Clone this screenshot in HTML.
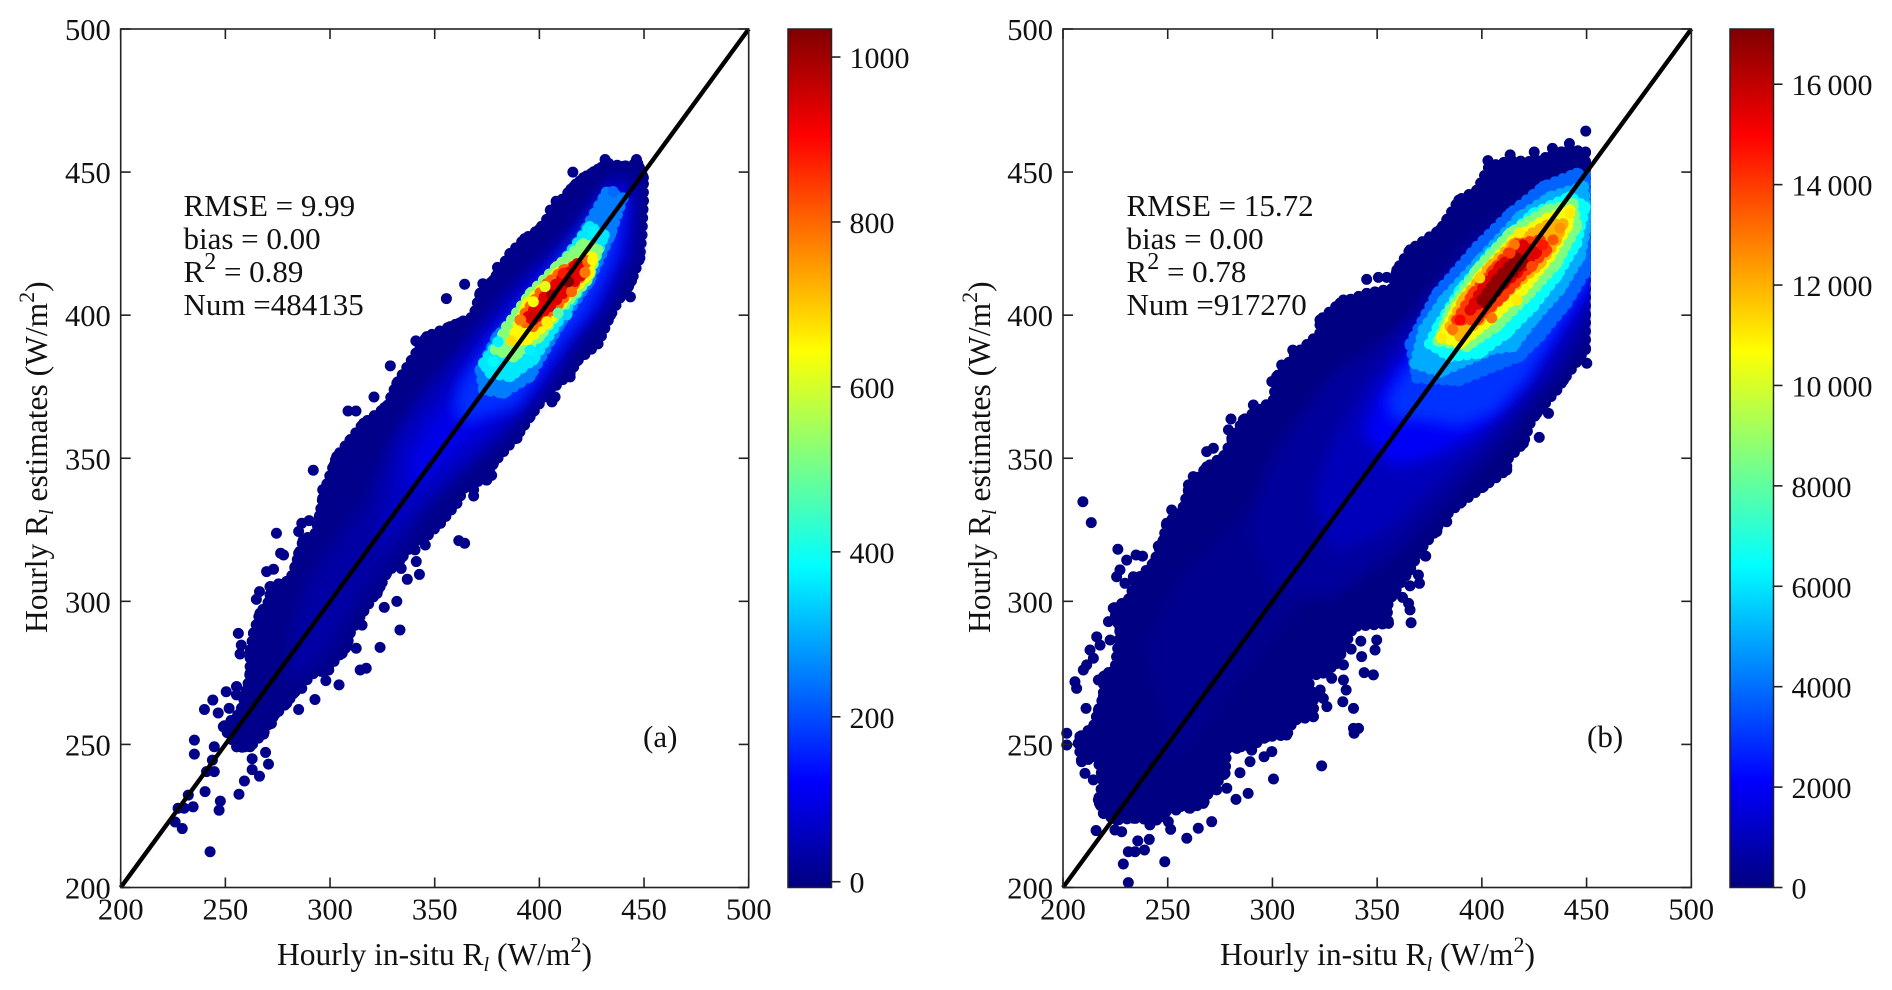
<!DOCTYPE html>
<html lang="en">
<head>
<meta charset="utf-8">
<title>Hourly Rl estimates versus in-situ density scatter</title>
<style>
html,body{margin:0;padding:0;background:#fff;}
svg{display:block;}
text{font-family:"Liberation Serif",serif;fill:#111;}
</style>
</head>
<body>
<svg id="chart" xmlns="http://www.w3.org/2000/svg" width="1892" height="990" viewBox="0 0 1892 990">
  <rect width="1892" height="990" fill="#fff"/>
  <defs>
    <filter id="glowBlur" x="-20%" y="-20%" width="140%" height="140%"><feGaussianBlur stdDeviation="7"/></filter>
  </defs>
  <g id="panelA"></g>
  <g id="panelB"></g>

  <text transform="translate(47,633) rotate(-90)" font-size="31.5">Hourly R<tspan font-size="20" font-style="italic" dy="6">l</tspan><tspan dy="-6"> estimates (W/m</tspan><tspan font-size="22" dy="-13">2</tspan><tspan dy="13">)</tspan></text>
  <text x="277" y="965" font-size="31.5">Hourly in-situ R<tspan font-size="20" font-style="italic" dy="6">l</tspan><tspan dy="-6"> (W/m</tspan><tspan font-size="22" dy="-13">2</tspan><tspan dy="13">)</tspan></text>
  <g font-size="31">
    <text x="183.5" y="216">RMSE = 9.99</text>
    <text x="183.5" y="249">bias = 0.00</text>
    <text x="183.5" y="282">R<tspan font-size="24" dy="-13">2</tspan><tspan dy="13"> = 0.89</tspan></text>
    <text x="183.5" y="315">Num =484135</text>
  </g>
  <text x="643" y="747" font-size="31">(a)</text>

  <text transform="translate(990,633) rotate(-90)" font-size="31.5">Hourly R<tspan font-size="20" font-style="italic" dy="6">l</tspan><tspan dy="-6"> estimates (W/m</tspan><tspan font-size="22" dy="-13">2</tspan><tspan dy="13">)</tspan></text>
  <text x="1220" y="965" font-size="31.5">Hourly in-situ R<tspan font-size="20" font-style="italic" dy="6">l</tspan><tspan dy="-6"> (W/m</tspan><tspan font-size="22" dy="-13">2</tspan><tspan dy="13">)</tspan></text>
  <g font-size="31">
    <text x="1126.5" y="216">RMSE = 15.72</text>
    <text x="1126.5" y="249">bias = 0.00</text>
    <text x="1126.5" y="282">R<tspan font-size="24" dy="-13">2</tspan><tspan dy="13"> = 0.78</tspan></text>
    <text x="1126.5" y="315">Num =917270</text>
  </g>
  <text x="1587" y="747" font-size="31">(b)</text>
</svg>

<script>
// ---------- shared axis data ----------
const xTickValues = [200, 250, 300, 350, 400, 450, 500];
const yTickValues = [200, 250, 300, 350, 400, 450, 500];
const identityLineValues = [200, 500];
const dataMaxX = 452;

// ---------- panel (a) colorbar ----------
const aCbarRange = [-7, 1034];
const aCbarTicks = [0, 200, 400, 600, 800, 1000];
const aCbarLabels = ["0", "200", "400", "600", "800", "1000"];

// ---------- panel (a) isolated scatter points ----------
const aPointX = [431.4,446.4,416,424.8,417.4,408,405.2,407.5,400.3,393,386,380,364.3,373,355.6,373.8,362,357,341,348.4,344,341,328.8,339.8,332.6,321,308.6,312.4,326,322.5,316.7,309.5,318.7,305,302,292,299.4,296.5,
 443.5,442.6,433.4,426,417.6,414.7,407.5,406,395.4,391.6,389.3,375.8,377.2,368.6,
 286.5,290,285,274.4,289.8,276.4,277.8,285,273,269.7,283.6,277.8,273,266.3,264.8,267.7,265.7,256.2,257.6,257,262,263.4,255.3,250.4,255.3,244,240,246.6,251.8,251.3,253,235.2,235.2,244.7,243.8,244.7,241,240.3,232.3,227.4,230.3,234.6,247.6,247,226,229.4,242.7,
 368.6,364.3,361.5,352.8,346.4,345.5,340.6,341.2,342.7,336.9,334,331.9,325.9,322.5,315.3,333.4,312.5,323.9,305.8,301.8,317.3,314.4,304.3,298,299.4,287.9,286.5,292.8,280.7,285,274,272,268.3,269.2,262.8,270.6,262.8,266.3,259.1,256.5,265,258,
 255.4,261,251.4];
const aPointY = [454.4,454.4,450,449.5,445.8,439.8,436.7,434.4,429.7,426.7,420.4,416.7,410.8,411,405.8,405.2,397.3,394.8,391,392.4,389,385.4,382.3,381.6,376,371.4,366.5,366.5,367.7,364.4,361.5,356.3,362,350.5,347.6,345.8,341,339,
 406.4,410,400,390.7,384.3,378.4,371.4,369.7,365,361,357,347.6,344,339,
 327.3,328.2,324.4,323.8,321.4,316.8,316.2,316.8,311.2,310.4,310.4,305.7,304.5,303.4,300.7,294.6,292.3,288.8,284.7,281.6,283,277.2,270.2,268.4,267.3,265.5,262.2,261,262.6,255.6,256.8,251.5,246.6,249.2,244.5,240.5,240.5,233.5,232.3,227.7,227.7,228.2,230.2,227,222.9,220.6,212.5,
 336.8,320.3,321.2,327.3,324.4,319.7,318,313.9,309.4,307.7,311.5,300,297.9,302.8,291.7,290,283.6,283.9,281.8,284.7,276.6,276,270.8,272.3,276,273.7,269.6,265.7,266,262.2,260.8,257.3,253.6,247.2,245,243.1,241.2,238.9,237.2,232.6,252.7,249,
 270.2,268.4,256];
const aPointValue = 4;

// ---------- panel (a) density levels (outlines) ----------
const aLevelValues = [4, 30, 60, 100, 170, 250, 360, 520, 650, 800, 930];
const aGlowLevels = 4;
const aLevel0X = [255.4,249,257,260.2,261.8,261.8,263.4,266.5,271.3,271.3,280.9,283.3,287.2,293,295,296.5,298.5,303.2,316,327.1,331.9,343,346.2,357.4,368.5,371.7,378.1,386,393,400,408,415,421,428,433,440,447,449.7,449.7,449,448,444,440,434,428,418,414.7,403.6,395.6,389.2,378.1,374.9,365.3,360.6,352.6,344.6,339.8,333.4,327,323.9,320.7,314.3,309.5,308,298.4,292,282.5,279.3,272.9,268.1,261.8];
const aLevel0Y = [249.2,256.2,260.9,269,274.8,281.8,288.8,295.8,300.5,305.1,307.4,312.1,321.4,323.8,330,336,341,350.6,362.2,368,376.2,389,392.5,396,399.5,407.7,412.3,421.6,426.7,430,438,444,448,451,453,452,453,448,440,428,420,412,408,400,390,384,379.7,372.7,364.6,357.6,348.3,342.4,341.3,334.3,327.3,321.5,320.3,314.4,309.8,305.1,301.6,294.6,288.8,284.2,276,274.8,267.8,264.4,259.7,253.9,249.2];
const aLevel1X = [280.9,288.8,303.2,317.5,322.3,333.5,347.8,360.6,373.3,387.6,405.2,420,438,447,446,430,414,392,373,357.4,344.6,331.8,322.3,311.1,300,288.8,279.3];
const aLevel1Y = [286.5,306.3,321.4,335.4,345.9,362.2,376.2,387.9,399.5,411.2,422.8,437,450,446,420,400,390,370,356,342.4,330.8,316.8,308.6,297,283,274.8,272.5];
const aLevel2X = [322,330.3,341.5,354.2,367,382.9,397.2,421,435,444,443,432,418,405,386,367,351,338.3,325.5];
const aLevel2Y = [320,352.9,366.9,378.5,390.2,404.2,415.8,430,447,445,422,405,392,376,360,348.3,338.9,329.6,320.3];
const aLevel3X = [338.3,346.2,357.4,363.8,373.3,387.6,402,421,432,442,440,428,412,397.2,376.5,360.6,347.8,336.7];
const aLevel3Y = [350.6,361.1,370.4,380.9,390.2,401.8,414.6,425,445,443,425,405,390,373.9,361.1,352.9,343.6,338.9];
const aLevel4X = [359,362.2,370.1,382.9,398.8,430,441,436,424,405,389.2,373.3,363.8];
const aLevel4Y = [368,376.2,384.4,397.2,410,440,441,420,402,385,368,364.6,362.2];
const aLevel5X = [371.7,379.7,394,415,432,440,434,424,410,395.6,382.9,373.3];
const aLevel5Y = [380.9,392.5,404.2,421,443,441,428,412,397,378.5,372.7,373.9];
const aLevel6X = [373.3,382.9,400,424,431,424,411,397.2,386,376.5];
const aLevel6Y = [383.2,393.7,408,431,428,414,400,384.4,378.5,379.7];
const aLevel7X = [379,384.4,395.6,408.3,421,428,422.6,410,400,387.6];
const aLevel7Y = [388,396,407.6,417,425,422.8,412,401.8,392.4,385.4];
const aLevel8X = [386.8,394,408.3,425,424,413,403.5,394];
const aLevel8Y = [391,404,414.6,420.4,414.6,406.5,397,391.3];
const aLevel9X = [390.8,403.5,411.5,422.6,421,408.3,397];
const aLevel9Y = [398.3,411,415.8,419,414.6,403,396];
const aLevel10X = [394.6,405,418,420,405,397];
const aLevel10Y = [399.5,408.8,418,414,403,398.3];
const aLevelsX = [aLevel0X,aLevel1X,aLevel2X,aLevel3X,aLevel4X,aLevel5X,aLevel6X,aLevel7X,aLevel8X,aLevel9X,aLevel10X];
const aLevelsY = [aLevel0Y,aLevel1Y,aLevel2Y,aLevel3Y,aLevel4Y,aLevel5Y,aLevel6Y,aLevel7Y,aLevel8Y,aLevel9Y,aLevel10Y];

// ---------- panel (a) individually visible hot dots ----------
const aHotX = [425.4,421.8,415.4,403.5,397.1,402.7,391.1,386.8,413.1,425.7,435.2,409,380.3,378,395.6,411.4,413.9,405.9,397];
const aHotY = [419.3,414.9,408.2,397.7,404.7,410,398.3,391,400.1,429.2,443.2,400.7,390.7,383.8,387.8,414.6,411.7,407,399.5];
const aHotValue = [650,780,800,660,640,620,780,680,340,370,230,480,370,380,370,880,1030,1000,950];

// ---------- panel (b) colorbar ----------
const bCbarRange = [0, 17100];
const bCbarTicks = [0, 2000, 4000, 6000, 8000, 10000, 12000, 14000, 16000];
const bCbarLabels = ["0", "2000", "4000", "6000", "8000", "10\u2009000", "12\u2009000", "14\u2009000", "16\u2009000"];

// ---------- panel (b) isolated scatter points ----------
const bPointX = [209.5,213.5,226.2,230.4,234.9,238,227.2,225.6,229.6,233.6,236.8,240.8,232.3,224.8,221.7,216.1,217.7,212.9,222.5,226.4,214.5,211.3,209.7,216.9,221.7,205.7,206.5,211,201.8,201.8,208.1,208.9,210.5,214.5,217.4,215.8,224.8,228,235.7,241.2,231.2,234.4,238.9,228.8,231.2,248.6,259.1,264.6,271,251.4,241.5,250.3,254,282.6,288.4,273.4,278.2,300.5,323.5,284.5,289.3,296,299.7,290.1,283,338.7,341.1,339,338.7,333.6,326,324.3,335.2,322.8,333.9,328.3,333.9,348.2,343.8,342.6,349,349.8,342.2,337.6,366.2,365.7,365,362.1,365.7,370.2,369.7,373.2,383.2,251.9,257.8,250.3,245.5,
 449.6,441.8,402.9,413.5,427.4,431.8,450.1,383.2,378.5,372.9,268.6,271.8,280.2,279,280.6,290.9,299.7,309.7,304.4,262.2,259.9,345,350.6,354.6,358.6,333.9,388.8,425,433.7];
const bPointY = [334.8,327.5,318.2,314.4,316.2,315.8,311,308.6,306.3,308.6,306.3,305.1,301,297.6,292.9,287.6,284.7,283,286.5,279.5,280.1,277.8,276,272.5,275.1,271.9,269.6,262.6,253.9,249.8,252.7,244,239.9,237.6,229.4,219.9,220.1,219.5,216.3,216.8,212.5,212.5,213.1,208.2,201.7,209,217.2,220.7,223,220.3,221.9,223,227.1,230.8,232.9,234.1,234.7,237.9,242.5,240.1,244,245.7,247.5,248,248.6,255.6,255.6,253.9,262.6,264.9,263.2,266.1,269,269,272.5,273.1,277.8,274.3,275.1,280.7,283,286.5,286.1,283.3,292.5,297,299.3,301.4,305.4,306.3,309.2,315.8,327.8,331.9,331.3,326.1,319.3,
 464.3,460,454,456,357.3,365.7,383.2,327.9,324.4,315.9,352.3,353.5,363.7,359.9,357,368.6,376.8,387.8,382.6,343.6,340.7,412.5,413.2,413.2,412.9,405.3,436.8,457,458.3];
const bPointValue = 50;

// ---------- panel (b) density levels (outlines) ----------
const bLevelValues = [50, 250, 500, 1000, 2000, 3000, 3800, 5000, 6500, 8500, 10500, 12000, 14000, 15500, 16800];
const bGlowLevels = 5;
const bLevel0X = [219.3,216.9,219.3,216.1,208.9,207.3,208.1,214.5,216.9,219.3,219.3,224.8,227.2,224,231.2,235.2,243.1,247.9,249.5,256.7,259.9,268.6,276.6,286.1,300.5,302,311.6,322.7,322.7,332.3,345,357.8,359.4,365.7,380,383.2,389,397.7,403.5,413.5,425,433.7,441.8,449.5,449.5,449.5,449.5,449.5,439,435.8,426.2,423,419.8,411.9,411.9,400.8,389.6,380,378.5,370.5,365.7,357.8,354.6,355.4,338.7,330.7,324.3,316.4,319.6,319.6,310,306.8,297.3,289.3,278.2,277.4,270.2,267,260.7,252.7,244.7,233.6,225.6];
const bLevel0Y = [225.9,230.6,237.6,245.7,244,250.4,252.7,256.2,262,266.7,273.7,276,290,297.6,300.5,307.5,313.3,321.4,327.3,331.3,338.9,347,350.6,363.4,370.4,378.5,386.7,393.7,398.3,404.2,407.6,409.4,415.8,422.8,429.8,433.3,440.2,443.7,452,454,453.6,456,458,457,440,420,400,388,377.3,373.9,365.7,362.2,355.2,349.4,345.9,340.1,334.3,328.4,325,318,311,302.8,298.1,292.3,291.2,278.3,274.9,273.7,266.7,259.7,258.5,253.3,252.7,249.2,249.2,239.9,234.1,229.4,227.7,228.8,223.6,224.2,223.6];
const bLevel1X = [246.3,238.4,254.3,278.2,302,357.8,341.9,310,278.2,254.3];
const bLevel1Y = [260.9,284.2,307.5,325,341.2,341.2,319.1,295.8,266.7,243.4];
const bLevel2X = [300.5,289.3,297.3,313.2,329.1,345,361,376.9,392.8,416.7,451.7,451.7,437.4,421.4,405.5,384.8,361,329.1];
const bLevel2Y = [302.8,323.8,347,364.5,379.7,387.8,396,411.1,426.3,438,439,393.7,379.7,365.7,351.7,335.4,318,301.6];
const bLevel3X = [319.6,329.1,341.9,357.8,376.9,396,416.7,451.7,451.7,432.6,413.5,396,376.9,353,329.1];
const bLevel3Y = [335.4,356.4,372.7,389,405.3,419.3,430.9,433.3,403,379.7,364.5,351.7,340.1,323.8,316.8];
const bLevel4X = [343.4,349.8,361,376.9,397.6,424.6,451.7,451.7,431,415.1,397.6,376.9,357.8];
const bLevel4Y = [358.7,371.5,384.3,396,412.3,425.1,426.3,408.8,386.7,370.4,358.7,350.6,347];
const bLevel5X = [354.6,364.1,383.2,408.7,432.6,451.7,451.7,437.4,421.4,405.5,389.6,370.5,357.8];
const bLevel5Y = [370.4,382,393.7,412.3,421.6,421.6,413.5,397.2,377.4,365.7,361,363.4,363.4];
const bLevel6X = [365.7,378.5,397.6,413.5,429.3,445.3,452,452,440.5,427.8,418,389,368.9];
const bLevel6Y = [390,407.7,424,435.6,445,449.6,448,418,404,392.5,385.5,377,378];
const bLevel7X = [372,381.6,399,418,432.6,448.5,450.8,447,437.3,424.6,415,405,380,368];
const bLevel7Y = [395,405.3,419.3,434.4,441.4,445,434.4,420.4,408.8,398.3,389,388,380,383];
const bLevel8X = [375,379,389.6,404,424.6,442,449.3,445.3,435.7,424.6,412,399,384.8];
const bLevel8Y = [390,396,408.8,421.7,435.6,441.4,437.9,425,413.5,403,393.7,386.7,385.5];
const bLevel9X = [379,384.8,397.6,413.5,431,443.5,445.3,435.7,423,407,392.8];
const bLevel9Y = [391,401.8,415.8,428.7,436.8,439,431,418,407.6,396,389];
const bLevel10X = [380.8,388,399,415,431,442,441,432.6,419.6,404,389.6];
const bLevel10Y = [392.5,403,413.5,426.3,433.9,436.8,431,420.4,408.8,398.3,390];
const bLevel11X = [384.8,391,404,415,431,438.8,435.7,427.8,413.5,399,389.6];
const bLevel11Y = [396,405.3,417,425,431.5,432,426.3,418,408.8,398.3,392.5];
const bLevel12X = [388,395.8,405.4,416.7,427.8,431,421.4,410,397.6];
const bLevel12Y = [398.3,407.6,415.8,425,426.3,422.8,415.8,406.5,398.3];
const bLevel13X = [394.4,400.7,408.7,419.6,426.2,416.7,405.4];
const bLevel13Y = [401.8,410,417,424.5,422,414.7,407.6];
const bLevel14X = [400,407,416.7,419.6,410,402.3];
const bLevel14Y = [405.3,412.3,420,418.6,411,404];
const bLevelsX = [bLevel0X,bLevel1X,bLevel2X,bLevel3X,bLevel4X,bLevel5X,bLevel6X,bLevel7X,bLevel8X,bLevel9X,bLevel10X,bLevel11X,bLevel12X,bLevel13X,bLevel14X];
const bLevelsY = [bLevel0Y,bLevel1Y,bLevel2Y,bLevel3Y,bLevel4Y,bLevel5Y,bLevel6Y,bLevel7Y,bLevel8Y,bLevel9Y,bLevel10Y,bLevel11Y,bLevel12Y,bLevel13Y,bLevel14Y];

// ---------- panel (b) individually visible hot dots ----------
const bHotX = [389.6,380.8,399,418,415.5,442,437.3,434,429,423.8,416.7,404.7,386,413.5];
const bHotY = [398.3,392,413,428.7,424.6,435.6,430.4,426.3,424.5,417,405.3,399,395,421.7];
const bHotValue = [15000,11000,11500,11000,13000,11000,12500,13500,14600,13800,11000,13000,13000,14000];

// ---------- rendering ----------
const SVG_NS = "http://www.w3.org/2000/svg";

function make(parent, tag, attrs) {
  const el = document.createElementNS(SVG_NS, tag);
  for (const k in attrs) el.setAttribute(k, attrs[k]);
  parent.appendChild(el);
  return el;
}

function jet(t) {
  const c = v => Math.round(255 * Math.max(0, Math.min(1, v)));
  const r = Math.min(4 * t - 1.5, -4 * t + 4.5);
  const g = Math.min(4 * t - 0.5, -4 * t + 3.5);
  const b = Math.min(4 * t + 0.5, -4 * t + 2.5);
  return "rgb(" + c(r) + "," + c(g) + "," + c(b) + ")";
}

function drawPanel(opts) {
  const root = document.getElementById(opts.id);
  const sx = v => opts.left + (v - 200) / 300 * (opts.right - opts.left);
  const sy = v => opts.bottom - (v - 200) / 300 * (opts.bottom - opts.top);
  const cy = v => opts.bottom - (v - opts.cbarRange[0]) / (opts.cbarRange[1] - opts.cbarRange[0]) * (opts.bottom - opts.top);
  const colorOf = v => jet((v - opts.cbarRange[0]) / (opts.cbarRange[1] - opts.cbarRange[0]));
  const R = 5.5;

  const defs = make(root, "defs", {});
  const clipId = opts.id + "Clip";
  const clip = make(defs, "clipPath", {id: clipId});
  make(clip, "rect", {x: opts.left, y: opts.top, width: sx(dataMaxX) - opts.left, height: opts.bottom - opts.top});

  // isolated points
  const pts = make(root, "g", {});
  
  
  opts.pointX.forEach((x, i) => {
    const dot = make(pts, "circle", {cx: sx(x), cy: sy(opts.pointY[i]), r: R, fill: colorOf(opts.pointValue)});
    
    
  });

  // density levels
  opts.levelValues.forEach((value, k) => {
    const color = colorOf(value);
    const isGlow = k >= 1 && k <= opts.glowLevels;
    const clipWrap = make(root, "g", k === 0 ? {} : {"clip-path": "url(#" + clipId + ")"});
    const g = make(clipWrap, "g", isGlow ? {fill: color, filter: "url(#glowBlur)"} : {fill: color});
    
    
    const xs = opts.levelsX[k];
    const ys = opts.levelsY[k];
    const poly = xs.map((x, i) => sx(x).toFixed(1) + "," + sy(ys[i]).toFixed(1)).join(" ");
    const shape = make(g, "polygon", isGlow ? {points: poly} : {
      points: poly, stroke: color, "stroke-width": R * 2,
      "stroke-linecap": "round", "stroke-dasharray": "0 8.5"
    });
    
    
    if (!isGlow) {
      xs.forEach((x, i) => {
        const dot = make(g, "circle", {cx: sx(x), cy: sy(ys[i]), r: R});
        
        
      });
    }
  });

  // hot dots
  const hot = make(root, "g", {});
  
  
  opts.hotX.forEach((x, i) => {
    const dot = make(hot, "circle", {cx: sx(x), cy: sy(opts.hotY[i]), r: R, fill: colorOf(opts.hotValue[i])});
    
    
  });

  // one-to-one line
  const line = make(root, "line", {
    x1: sx(identityLineValues[0]), y1: sy(identityLineValues[0]),
    x2: sx(identityLineValues[1]), y2: sy(identityLineValues[1]),
    stroke: "#000", "stroke-width": 4.4
  });
  
  

  // frame
  const frame = make(root, "rect", {
    x: opts.left, y: opts.top, width: opts.right - opts.left, height: opts.bottom - opts.top,
    fill: "none", stroke: "#222", "stroke-width": 1.6
  });
  
  

  // x ticks
  xTickValues.forEach(v => {
    const x = sx(v);
    const t1 = make(root, "line", {x1: x, x2: x, y1: opts.bottom, y2: opts.bottom - 10, stroke: "#222", "stroke-width": 1.6});
    
    
    const t2 = make(root, "line", {x1: x, x2: x, y1: opts.top, y2: opts.top + 10, stroke: "#222", "stroke-width": 1.6});
    
    
    const lab = make(root, "text", {x: x, y: opts.bottom + 32, "text-anchor": "middle", "font-size": 30.5});
    
    
    lab.textContent = v;
  });

  // y ticks
  yTickValues.forEach(v => {
    const y = sy(v);
    const t1 = make(root, "line", {x1: opts.left, x2: opts.left + 10, y1: y, y2: y, stroke: "#222", "stroke-width": 1.6});
    
    
    const t2 = make(root, "line", {x1: opts.right, x2: opts.right - 10, y1: y, y2: y, stroke: "#222", "stroke-width": 1.6});
    
    
    const lab = make(root, "text", {x: opts.left - 10, y: y + 11, "text-anchor": "end", "font-size": 30.5});
    
    
    lab.textContent = v;
  });

  // colorbar
  const gradId = opts.id + "Grad";
  const grad = make(defs, "linearGradient", {id: gradId, x1: 0, y1: 1, x2: 0, y2: 0});
  for (let i = 0; i <= 16; i++) {
    make(grad, "stop", {offset: i / 16, "stop-color": jet(i / 16)});
  }
  const bar = make(root, "rect", {
    x: opts.cbarLeft, y: opts.top, width: opts.cbarRight - opts.cbarLeft, height: opts.bottom - opts.top,
    fill: "url(#" + gradId + ")", stroke: "#222", "stroke-width": 1.5
  });
  
  
  opts.cbarTicks.forEach((v, i) => {
    const y = cy(v);
    const t = make(root, "line", {x1: opts.cbarRight, x2: opts.cbarRight + 9, y1: y, y2: y, stroke: "#222", "stroke-width": 1.6});
    
    
    const lab = make(root, "text", {x: opts.cbarRight + 18, y: y + 11, "font-size": 30});
    
    
    lab.textContent = opts.cbarLabels[i];
  });
}

drawPanel({
  id: "panelA", left: 120.7, right: 748.7, top: 29, bottom: 887.5,
  cbarLeft: 788, cbarRight: 831.5, cbarRange: aCbarRange, cbarTicks: aCbarTicks, cbarLabels: aCbarLabels,
  pointX: aPointX, pointY: aPointY, pointValue: aPointValue,
  levelValues: aLevelValues, glowLevels: aGlowLevels, levelsX: aLevelsX, levelsY: aLevelsY,
  hotX: aHotX, hotY: aHotY, hotValue: aHotValue
});
drawPanel({
  id: "panelB", left: 1063, right: 1691.3, top: 29, bottom: 887.5,
  cbarLeft: 1730, cbarRight: 1773.5, cbarRange: bCbarRange, cbarTicks: bCbarTicks, cbarLabels: bCbarLabels,
  pointX: bPointX, pointY: bPointY, pointValue: bPointValue,
  levelValues: bLevelValues, glowLevels: bGlowLevels, levelsX: bLevelsX, levelsY: bLevelsY,
  hotX: bHotX, hotY: bHotY, hotValue: bHotValue
});
</script>
</body>
</html>
